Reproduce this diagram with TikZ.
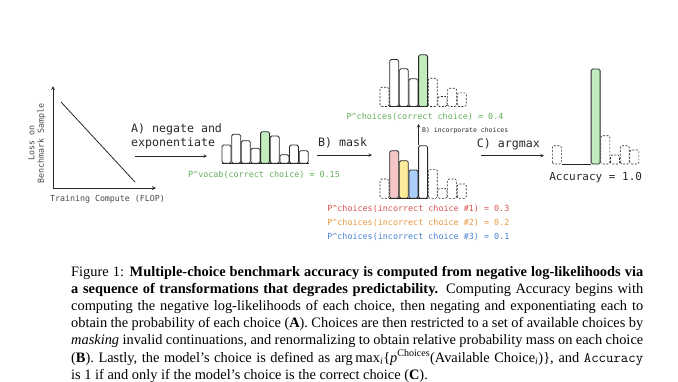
\documentclass[tikz,border=0pt]{standalone}
\usepackage{fontspec}
\setmainfont{Liberation Serif}
\newfontfamily\sketchfont{DejaVu Sans Mono}
\usepackage{tikz}
\usetikzlibrary{arrows,positioning}
\usepackage{xcolor}
\definecolor{ink}{RGB}{40,40,40}
\definecolor{pgreen}{RGB}{100,172,92}
\definecolor{pred}{RGB}{214,82,82}
\definecolor{porange}{RGB}{232,152,62}
\definecolor{pblue}{RGB}{72,130,208}
\definecolor{barGreen}{RGB}{192,236,190}
\definecolor{barRed}{RGB}{244,198,198}
\definecolor{barYellow}{RGB}{252,234,152}
\definecolor{barBlue}{RGB}{172,206,250}
\tikzstyle{arrow} = [semithick,->,>=stealth,color=ink]
\tikzstyle{solidbar} = [draw=ink,thick,rounded corners=1.5pt]
\tikzstyle{dashbar} = [draw=ink,semithick,rounded corners=1.5pt,dash pattern=on 2pt off 1.5pt]
\tikzstyle{stepname} = [font=\sketchfont\fontsize{11.6}{14}\selectfont,text=ink,inner sep=0]
\tikzstyle{prob} = [font=\sketchfont\fontsize{8.4}{10}\selectfont,inner sep=0]

\begin{document}
\begin{tikzpicture}[x=1pt,y=-1pt]
\useasboundingbox (0,0) rectangle (678,381);

% Loss vs compute
\coordinate (origin) at (53,188);
\coordinate (ytip) at (53,86);
\coordinate (xtip) at (156,188);
\draw[arrow,thick] (origin) -- (ytip);
\draw[arrow,thick] (origin) -- (xtip);
\draw[thick,ink] (61,102) -- (135,182);
\node[prob,text=ink!85,rotate=90,align=center,font=\sketchfont\fontsize{8.3}{9.5}\selectfont] (ylab) at (37,143.3) {Loss on\\Benchmark Sample};
\node[prob,text=ink!85,font=\sketchfont\fontsize{8.3}{9.5}\selectfont] (xlab) at (107.5,199) {Training Compute (FLOP)};

% A) negate and exponentiate
\node[stepname,anchor=west,align=left] (stepA) at (131,136) {A) negate and\\exponentiate};
\coordinate (aStart) at (135,156);
\coordinate (aEnd) at (207,156);
\draw[arrow] (aStart) -- (aEnd);

% Vocab distribution
\foreach \h/\c [count=\i from 0] in {18.3/white,29/white,22.6/white,15/white,31.6/barGreen,27.3/white,8.6/white,18.3/white,12.6/white}
  \draw[solidbar,fill=\c] ({222+9.65*\i},163.3) rectangle ++(9,-\h);
\draw[ink,thick] (221.5,163.3) -- (309,163.3);
\node[prob,text=pgreen] (pvocab) at (264,175) {P\^{}vocab(correct choice) = 0.15};

% B) mask
\node[stepname,anchor=west] (stepB) at (318,143) {B) mask};
\coordinate (bStart) at (317,155);
\coordinate (bEnd) at (372,155);
\draw[arrow] (bStart) -- (bEnd);

% Choices distribution (renormalized)
\foreach \i/\h in {0/19.3,5/28.3,6/10,7/18.3,8/13.7}
  \draw[dashbar] ({380+9.65*\i},106.5) rectangle ++(9,-\h);
\foreach \i/\h/\c in {1/47/white,2/37.7/white,3/27.7/white,4/51.7/barGreen}
  \draw[solidbar,fill=\c] ({380+9.65*\i},106.5) rectangle ++(9,-\h);
\draw[ink,thick] (389,106.5) -- (428,106.5);
\node[prob,text=pgreen] (pcorrect) at (425,117.3) {P\^{}choices(correct choice) = 0.4};

% Choices distribution (masked)
\foreach \i/\h in {0/19.3,5/29,6/10,7/19.3,8/14.3}
  \draw[dashbar] ({380+9.65*\i},198.3) rectangle ++(9,-\h);
\foreach \i/\h/\c in {1/47.6/barRed,2/37.6/barYellow,3/28.3/barBlue,4/52.6/white}
  \draw[solidbar,fill=\c] ({380+9.65*\i},198.3) rectangle ++(9,-\h);
\draw[ink,thick] (389,198.3) -- (428,198.3);
\coordinate (maskTop) at (418.5,145);
\coordinate (choiceBottom) at (418.5,124);
\draw[arrow] (maskTop) -- (choiceBottom);
\node[prob,text=ink,anchor=west,font=\sketchfont\fontsize{6.5}{8}\selectfont] (incorp) at (422,130.7) {B) incorporate choices};
\node[prob,text=pred] (pinc1) at (418.3,209) {P\^{}choices(incorrect choice \#1) = 0.3};
\node[prob,text=porange] (pinc2) at (418.3,223) {P\^{}choices(incorrect choice \#2) = 0.2};
\node[prob,text=pblue] (pinc3) at (418.3,237.3) {P\^{}choices(incorrect choice \#3) = 0.1};

% C) argmax
\node[stepname,anchor=west] (stepC) at (476.7,144.3) {C) argmax};
\coordinate (cStart) at (480.7,155.7);
\coordinate (cEnd) at (544,155.7);
\draw[arrow] (cStart) -- (cEnd);

% Argmax result
\foreach \i/\h in {0/18.3,5/28.3,6/9,7/18.3,8/14}
  \draw[dashbar] ({552.3+9.7*\i},164) rectangle ++(9,-\h);
\draw[solidbar,fill=barGreen] (591.1,164) rectangle ++(9,-95);
\draw[ink,thick] (562,164) -- (591,164);
\node[stepname,font=\sketchfont\fontsize{11}{13}\selectfont] (acc) at (595.7,177.3) {Accuracy = 1.0};

% Caption
\node[anchor=base west,text width=572pt,align=justify,inner sep=0,font=\fontsize{14.4}{17.2}\selectfont] (caption) at (71,276)
{Figure 1: \textbf{Multiple-choice benchmark accuracy is computed from negative log-likelihoods via}\linebreak
\textbf{a sequence of transformations that degrades predictability.} Computing Accuracy begins with\linebreak
computing the negative log-likelihoods of each choice, then negating and exponentiating each to\linebreak
obtain the probability of each choice (\textbf{A}). Choices are then restricted to a set of available choices by\linebreak
\textit{masking} invalid continuations, and renormalizing to obtain relative probability mass on each choice\linebreak
(\textbf{B}). Lastly, the model's choice is defined as arg\,max\textsubscript{\textit{i}}\{\textit{p}\textsuperscript{Choices}(Available Choice\textsubscript{\textit{i}})\}, and \texttt{Accuracy}\linebreak
is 1 if and only if the model's choice is the correct choice (\textbf{C}).};
\end{tikzpicture}
\end{document}
